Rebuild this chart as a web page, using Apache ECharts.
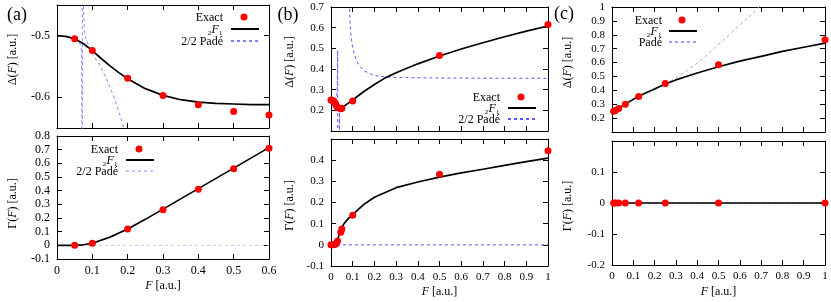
<!DOCTYPE html>
<html><head><meta charset="utf-8">
<script src="https://cdn.jsdelivr.net/npm/echarts@6/dist/echarts.min.js"></script>
<style>html,body{margin:0;padding:0;background:#fff}#c{width:831px;height:302px}</style>
</head><body><div id="c"></div>
<script>
// ---------- Panel (a) ----------
const aExactF = [0.05, 0.1, 0.2, 0.3, 0.4, 0.5, 0.6];
const aExactDelta = [-0.505, -0.524, -0.569, -0.597, -0.612, -0.623, -0.629];
const aExactGamma = [0, 0.015, 0.12, 0.26, 0.41, 0.56, 0.71];
const aHypF = [0, 0.025, 0.05, 0.075, 0.1, 0.125, 0.15, 0.175, 0.2, 0.25, 0.3, 0.35, 0.4, 0.45, 0.5, 0.55, 0.6];
const aHypDelta = [-0.5, -0.501, -0.505, -0.513, -0.524, -0.537, -0.549, -0.56, -0.57, -0.586, -0.597, -0.604, -0.608, -0.61, -0.611, -0.612, -0.612];
const aHypGammaF = [0, 0.05, 0.075, 0.1, 0.15, 0.2, 0.25, 0.3, 0.35, 0.4, 0.45, 0.5, 0.55, 0.6];
const aHypGamma = [0, 0, 0.004, 0.015, 0.06, 0.12, 0.19, 0.265, 0.34, 0.415, 0.49, 0.565, 0.64, 0.715];
const aPadeF = [0, 0.03, 0.05, 0.06, 0.066, 0.070, 0.0716, 0.0717, 0.0745, 0.077, 0.08, 0.09, 0.1, 0.12, 0.14, 0.16, 0.18, 0.19];
const aPadeDelta = [-0.5, -0.502, -0.505, -0.509, -0.514, -0.528, -0.9, -0.3, -0.45, -0.485, -0.502, -0.517, -0.529, -0.547, -0.57, -0.598, -0.632, -0.652];
const aPadeGammaF = [0, 0.6];
const aPadeGamma = [0, 0];

// ---------- Panel (b) ----------
const bExactF = [0, 0.005, 0.01, 0.015, 0.02, 0.025, 0.03, 0.045, 0.05, 0.1, 0.5, 1];
const bExactDelta = [0.25, 0.249, 0.246, 0.241, 0.233, 0.222, 0.213, 0.208, 0.21, 0.245, 0.465, 0.615];
const bExactGamma = [0, 0, 0, 0.001, 0.003, 0.008, 0.018, 0.06, 0.075, 0.14, 0.333, 0.445];
const bHypF = [0, 0.005, 0.01, 0.015, 0.02, 0.025, 0.03, 0.035, 0.04, 0.05, 0.06, 0.08, 0.1, 0.15, 0.2, 0.25, 0.3, 0.4, 0.5, 0.6, 0.7, 0.8, 0.9, 1];
const bHypDelta = [0.25, 0.249, 0.246, 0.24, 0.232, 0.222, 0.213, 0.208, 0.207, 0.212, 0.22, 0.235, 0.25, 0.29, 0.325, 0.357, 0.382, 0.425, 0.463, 0.497, 0.527, 0.556, 0.583, 0.608];
const bHypGammaF = [0, 0.01, 0.02, 0.025, 0.03, 0.035, 0.04, 0.05, 0.06, 0.08, 0.1, 0.15, 0.2, 0.3, 0.4, 0.5, 0.6, 0.7, 0.8, 0.9, 1];
const bHypGamma = [0, 0, 0.002, 0.008, 0.02, 0.04, 0.058, 0.082, 0.1, 0.125, 0.143, 0.19, 0.225, 0.27, 0.297, 0.32, 0.34, 0.357, 0.375, 0.393, 0.41];
const bPadeF = [0, 0.01, 0.02, 0.026, 0.029, 0.031, 0.031, 0.034, 0.037, 0.039, 0.041, 0.06, 0.084, 0.087, 0.09, 0.1, 0.117, 0.135, 0.154, 0.2, 0.25, 0.3, 0.5, 1];
const bPadeDelta = [0.25, 0.246, 0.238, 0.26, 0.33, 0.49, 0.0, null, 0.0, 0.22, 0.0, null, 0.75, 0.65, 0.58, 0.5, 0.44, 0.41, 0.39, 0.368, 0.362, 0.359, 0.356, 0.355];
const bPadeGammaF = [0, 1];
const bPadeGamma = [0, 0];

// ---------- Panel (c) ----------
const cExactF = [0.0078, 0.0156, 0.03125, 0.0625, 0.125, 0.25, 0.5, 1];
const cExactDelta = [0.25, 0.255, 0.27, 0.30, 0.355, 0.45, 0.585, 0.765];
const cExactGamma = [0, 0, 0, 0, 0, 0, 0, 0];
const cHypF = [0, 0.02, 0.05, 0.1, 0.15, 0.2, 0.25, 0.3, 0.4, 0.5, 0.6, 0.7, 0.8, 0.9, 1];
const cHypDelta = [0.245, 0.26, 0.29, 0.335, 0.375, 0.41, 0.445, 0.475, 0.525, 0.57, 0.61, 0.645, 0.68, 0.71, 0.74];
const cHypGammaF = [0, 1];
const cHypGamma = [0, 0];
const cPadeF = [0, 0.05, 0.1, 0.15, 0.2, 0.25, 0.3, 0.35, 0.4, 0.45, 0.5, 0.55, 0.6, 0.65, 0.69, 0.72];
const cPadeDelta = [0.245, 0.29, 0.335, 0.376, 0.412, 0.448, 0.49, 0.54, 0.595, 0.66, 0.73, 0.8, 0.87, 0.94, 1.0, 1.05];
const cPadeGammaF = [0, 1];
const cPadeGamma = [0, 0];

// legend texts
const KEY_EXACT = 'Exact';
const KEY_HYP = '₂{i|F}₁';
const KEY_PADE = '2/2 Padé';
const KEY_PADE_C = 'Padé';

// ---------- Layout / style ----------
const FONT = "'Liberation Serif', 'DejaVu Serif', serif";
const FS = 12;
const PADE_A = '#8080ff', PADE_A2 = '#c4c4ff', PADE_B = '#5a5aff', PADE_C = '#a0a0ff';

const grids = [
  {left: 57, top: 5, width: 212, height: 123},    // a top
  {left: 57, top: 136, width: 212, height: 123},  // a bottom
  {left: 331, top: 7, width: 217, height: 124},   // b top
  {left: 331, top: 139, width: 217, height: 127}, // b bottom
  {left: 612, top: 7, width: 213, height: 125},   // c top
  {left: 612, top: 141, width: 213, height: 124}  // c bottom
];

function richFor(fs) {
  return {
    i: {fontFamily: FONT, fontStyle: 'italic', fontSize: fs, color: '#000'},
    n: {fontFamily: FONT, fontSize: fs, color: '#000'}
  };
}

const axisBase = {
  type: 'value',
  axisLine: {show: true, onZero: false, lineStyle: {color: '#000', width: 1}},
  axisTick: {show: true, inside: true, length: 5, lineStyle: {color: '#000', width: 1}},
  splitLine: {show: false}
};

const xAxes = [], yAxes = [];
function addAxes(g, c) {
  const tfs = c.tickFs;
  const xb = Object.assign({}, axisBase, {gridIndex: g, min: c.xmin, max: c.xmax, interval: c.xint});
  xAxes.push(Object.assign({}, xb, {
    position: 'bottom',
    axisLabel: c.showX ? {show: true, margin: 6, color: '#000', fontFamily: FONT, fontSize: tfs} : {show: false},
    name: c.showX ? '{i|F}{n| [a.u.]}' : '',
    nameLocation: 'middle', nameGap: c.xGap || 22,
    nameTextStyle: {fontFamily: FONT, fontSize: FS, color: '#000', rich: richFor(FS)}
  }));
  xAxes.push(Object.assign({}, xb, {position: 'top', axisLabel: {show: false}}));
  const yb = Object.assign({}, axisBase, {gridIndex: g, min: c.ymin, max: c.ymax, interval: c.yint});
  if (c.yCustom) {
    yb.axisTick = Object.assign({}, axisBase.axisTick, {customValues: c.yCustom});
  }
  const yl = {show: true, margin: 7, color: '#000', fontFamily: FONT, fontSize: tfs,
              showMinLabel: !c.hideMin, showMaxLabel: !c.hideMax};
  if (c.yCustom) yl.customValues = c.yCustom;
  const shift = c.yShift || 0; // +: move name up, -: move down
  const pad = shift >= 0 ? [0, 0, 0, 2 * shift] : [0, -2 * shift, 0, 0];
  yAxes.push(Object.assign({}, yb, {
    position: 'left', axisLabel: yl,
    name: c.yName, nameLocation: 'middle', nameRotate: 90, nameGap: c.yGap,
    nameTextStyle: {fontFamily: FONT, fontSize: FS, color: '#000', rich: richFor(FS), padding: pad}
  }));
  yAxes.push(Object.assign({}, yb, {position: 'right', axisLabel: {show: false}}));
}
const DNAME = '{n|Δ(}{i|F}{n|) [a.u.]}';
const GNAME = '{n|Γ(}{i|F}{n|) [a.u.]}';
addAxes(0, {xmin: 0, xmax: 0.6, xint: 0.1, ymin: -0.65, ymax: -0.45, yint: 0.05, yCustom: [-0.6, -0.5], showX: false, yName: DNAME, yGap: 38, yShift: 7, tickFs: 12});
addAxes(1, {xmin: 0, xmax: 0.6, xint: 0.1, ymin: -0.1, ymax: 0.8, yint: 0.1, showX: true, xGap: 21, yName: GNAME, yGap: 38, yShift: -6, tickFs: 12});
addAxes(2, {xmin: 0, xmax: 1, xint: 0.1, ymin: 0.1, ymax: 0.7, yint: 0.1, hideMin: true, showX: false, yName: DNAME, yGap: 35, yShift: 7, tickFs: 11});
addAxes(3, {xmin: 0, xmax: 1, xint: 0.1, ymin: -0.1, ymax: 0.5, yint: 0.1, hideMax: true, showX: true, xGap: 20, yName: GNAME, yGap: 35, yShift: -3, tickFs: 11});
addAxes(4, {xmin: 0, xmax: 1, xint: 0.1, ymin: 0.1, ymax: 1, yint: 0.1, hideMin: true, showX: false, yName: DNAME, yGap: 38, yShift: 7, tickFs: 11});
addAxes(5, {xmin: 0, xmax: 1, xint: 0.1, ymin: -0.2, ymax: 0.2, yint: 0.1, hideMax: true, showX: true, xGap: 21, yName: GNAME, yGap: 38, yShift: -3, tickFs: 11});

function zip(xs, ys) { return xs.map((x, i) => [x, ys[i] === null ? '-' : ys[i]]); }

const series = [];
function line(name, g, xs, ys, color, width, dashed, z) {
  series.push({
    name: name, type: 'line', xAxisIndex: 2 * g, yAxisIndex: 2 * g,
    data: zip(xs, ys), symbol: 'none', showSymbol: false, clip: true, smooth: false,
    connectNulls: false, animation: false, z: z,
    lineStyle: {color: color, width: width, type: dashed ? [3, 3] : 'solid'},
    itemStyle: {color: color}
  });
}
function dots(name, g, xs, ys) {
  series.push({
    name: name, type: 'scatter', xAxisIndex: 2 * g, yAxisIndex: 2 * g,
    data: zip(xs, ys), symbol: 'circle', symbolSize: 7, animation: false, z: 5,
    itemStyle: {color: '#ff0000', opacity: 1}
  });
}

// (a)
line('Pade_a1', 0, aPadeF, aPadeDelta, PADE_A, 1, true, 2);
line('Hyp_a1', 0, aHypF, aHypDelta, '#000', 1.7, false, 3);
dots('Exact_a1', 0, aExactF, aExactDelta);
line('Pade_a2', 1, aPadeGammaF, aPadeGamma, PADE_A2, 1, true, 2);
line('Hyp_a2', 1, aHypGammaF, aHypGamma, '#000', 1.7, false, 3);
dots('Exact_a2', 1, aExactF, aExactGamma);
// (b)
line('Pade_b1', 2, bPadeF, bPadeDelta, PADE_B, 1, true, 2);
line('Hyp_b1', 2, bHypF, bHypDelta, '#000', 1.7, false, 3);
dots('Exact_b1', 2, bExactF, bExactDelta);
line('Pade_b2', 3, bPadeGammaF, bPadeGamma, PADE_B, 1, true, 2);
line('Hyp_b2', 3, bHypGammaF, bHypGamma, '#000', 1.7, false, 3);
dots('Exact_b2', 3, bExactF, bExactGamma);
// (c)
line('Pade_c1', 4, cPadeF, cPadeDelta, PADE_C, 1, true, 2);
line('Hyp_c1', 4, cHypF, cHypDelta, '#000', 1.7, false, 3);
dots('Exact_c1', 4, cExactF, cExactDelta);
line('Pade_c2', 5, cPadeGammaF, cPadeGamma, PADE_C, 1, true, 2);
line('Hyp_c2', 5, cHypGammaF, cHypGamma, '#000', 1.7, false, 3);
dots('Exact_c2', 5, cExactF, cExactGamma);

const legends = [], keyTexts = [];
function keyRow(name, text, lineLeft, cy, textRight) {
  const isDot = name.indexOf('Exact') === 0;
  legends.push({
    data: [name], orient: 'horizontal', align: 'left', padding: 0,
    left: isDot ? lineLeft + 14 - 3.5 : lineLeft, top: cy - 3.5,
    itemWidth: isDot ? 7 : 28, itemHeight: 7, itemGap: 0,
    selectedMode: false, formatter: () => '',
    itemStyle: isDot ? {} : {opacity: 0},
    textStyle: {fontSize: 1}
  });
  keyTexts.push({type: 'text', x: textRight, y: cy + 0.5, silent: true,
    style: {text: text, font: FS + 'px ' + FONT, fill: '#000', align: 'right', verticalAlign: 'middle',
      rich: {i: {fontFamily: FONT, fontStyle: 'italic', fontSize: FS, fill: '#000'}}}});
}
[['Exact_a1', KEY_EXACT, 230, 17, 223], ['Hyp_a1', KEY_HYP, 230, 29, 223], ['Pade_a1', KEY_PADE, 230, 41, 223],
 ['Exact_a2', KEY_EXACT, 125, 149, 118], ['Hyp_a2', KEY_HYP, 125, 160, 118], ['Pade_a2', KEY_PADE, 125, 171, 118],
 ['Exact_b1', KEY_EXACT, 507, 97, 500], ['Hyp_b1', KEY_HYP, 507, 108, 500], ['Pade_b1', KEY_PADE, 507, 119, 500],
 ['Exact_c1', KEY_EXACT, 668, 20, 662], ['Hyp_c1', KEY_HYP, 668, 31, 662], ['Pade_c1', KEY_PADE_C, 668, 42, 662]
].forEach(r => keyRow(r[0], r[1], r[2], r[3], r[4]));

const chart = echarts.init(document.getElementById('c'), null, {renderer: 'canvas'});
chart.setOption({
  backgroundColor: '#fff',
  animation: false,
  grid: grids.map(g => Object.assign({containLabel: false}, g)),
  xAxis: xAxes,
  yAxis: yAxes,
  legend: legends,
  graphic: [
    {type: 'text', x: 17, y: 15, style: {text: '(a)', font: "18px " + FONT, fill: '#000', align: 'center', verticalAlign: 'middle'}},
    {type: 'text', x: 288, y: 15, style: {text: '(b)', font: "18px " + FONT, fill: '#000', align: 'center', verticalAlign: 'middle'}},
    {type: 'text', x: 564, y: 14, style: {text: '(c)', font: "18px " + FONT, fill: '#000', align: 'center', verticalAlign: 'middle'}}
  ].concat(keyTexts),
  series: series
});
</script></body></html>
